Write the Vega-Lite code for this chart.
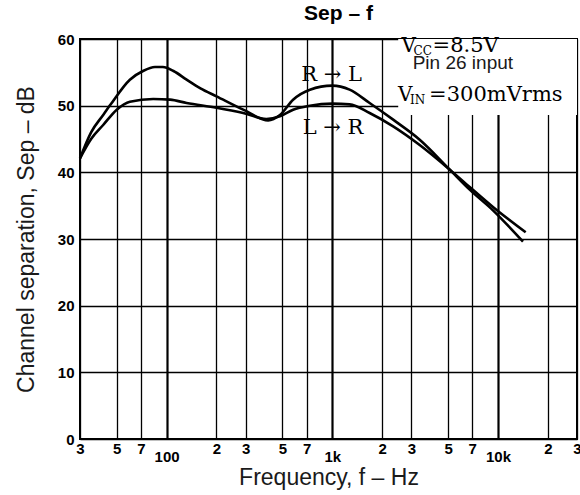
{
  "$schema": "https://vega.github.io/schema/vega-lite/v6.json",
  "width": 497,
  "height": 400,
  "autosize": "none",
  "padding": {"left": 80, "top": 39, "right": 3, "bottom": 56},
  "background": "white",
  "title": {"text": "Sep – f", "font": "Liberation Sans", "fontSize": 21, "fontWeight": "bold", "color": "black", "offset": 8, "dx": 10},
  "config": {
    "view": {"stroke": "black", "strokeWidth": 2},
    "axis": {"domain": false, "ticks": false, "gridColor": "black", "gridOpacity": 1, "labelColor": "black", "labelFont": "Liberation Sans", "labelFontWeight": "bold", "labelFontSize": 15, "titleFont": "Liberation Sans", "titleFontWeight": "normal", "titleFontSize": 23, "titleColor": "#1a1a1a"}
  },
  "layer": [
    {
      "data": {"values": [
        {"dir": "R→L", "f": 30, "sep": 42.1},
        {"dir": "R→L", "f": 35, "sep": 46.0},
        {"dir": "R→L", "f": 41.4, "sep": 48.6},
        {"dir": "R→L", "f": 46, "sep": 50.2},
        {"dir": "R→L", "f": 60, "sep": 53.9},
        {"dir": "R→L", "f": 72, "sep": 55.2},
        {"dir": "R→L", "f": 85, "sep": 55.8},
        {"dir": "R→L", "f": 95, "sep": 55.8},
        {"dir": "R→L", "f": 110, "sep": 55.2},
        {"dir": "R→L", "f": 132, "sep": 53.9},
        {"dir": "R→L", "f": 160, "sep": 52.6},
        {"dir": "R→L", "f": 200, "sep": 51.4},
        {"dir": "R→L", "f": 290, "sep": 49.4},
        {"dir": "R→L", "f": 410, "sep": 47.8},
        {"dir": "R→L", "f": 483, "sep": 48.6},
        {"dir": "R→L", "f": 580, "sep": 50.9},
        {"dir": "R→L", "f": 733, "sep": 52.4},
        {"dir": "R→L", "f": 1000, "sep": 53.0},
        {"dir": "R→L", "f": 1272, "sep": 52.4},
        {"dir": "R→L", "f": 1680, "sep": 50.4},
        {"dir": "R→L", "f": 2330, "sep": 47.9},
        {"dir": "R→L", "f": 3370, "sep": 44.9},
        {"dir": "R→L", "f": 5120, "sep": 40.4},
        {"dir": "R→L", "f": 6750, "sep": 37.4},
        {"dir": "R→L", "f": 9330, "sep": 34.3},
        {"dir": "R→L", "f": 14160, "sep": 29.6},
        {"dir": "L→R", "f": 30, "sep": 42.1},
        {"dir": "L→R", "f": 35, "sep": 45.0},
        {"dir": "L→R", "f": 41.4, "sep": 47.1},
        {"dir": "L→R", "f": 50, "sep": 49.4},
        {"dir": "L→R", "f": 60, "sep": 50.6},
        {"dir": "L→R", "f": 83, "sep": 51.0},
        {"dir": "L→R", "f": 105, "sep": 50.9},
        {"dir": "L→R", "f": 132, "sep": 50.4},
        {"dir": "L→R", "f": 200, "sep": 49.7},
        {"dir": "L→R", "f": 290, "sep": 48.9},
        {"dir": "L→R", "f": 400, "sep": 48.0},
        {"dir": "L→R", "f": 483, "sep": 48.4},
        {"dir": "L→R", "f": 580, "sep": 49.4},
        {"dir": "L→R", "f": 733, "sep": 50.0},
        {"dir": "L→R", "f": 1000, "sep": 50.3},
        {"dir": "L→R", "f": 1272, "sep": 50.2},
        {"dir": "L→R", "f": 1680, "sep": 48.9},
        {"dir": "L→R", "f": 2330, "sep": 46.9},
        {"dir": "L→R", "f": 3370, "sep": 44.1},
        {"dir": "L→R", "f": 5120, "sep": 40.4},
        {"dir": "L→R", "f": 6750, "sep": 37.8},
        {"dir": "L→R", "f": 9330, "sep": 34.8},
        {"dir": "L→R", "f": 14700, "sep": 31.0}
      ]},
      "mark": {"type": "line", "color": "black", "strokeWidth": 2.6, "interpolate": "monotone"},
      "encoding": {
        "x": {"field": "f", "type": "quantitative",
          "scale": {"type": "log", "domain": [30, 30000], "nice": false, "zero": false},
          "axis": {"orient": "bottom", "values": [30, 50, 70, 100, 200, 300, 500, 700, 1000, 2000, 3000, 5000, 7000, 10000, 20000, 30000],
            "labelExpr": "datum.value == 100 ? ['', '100'] : datum.value == 1000 ? ['', '1k'] : datum.value == 10000 ? ['', '10k'] : format(datum.value / pow(10, floor(log(datum.value) / LN10 + 1e-9)), 'd')",
            "labelLineHeight": 8, "labelPadding": 2, "labelOverlap": false, "labelFlush": false, "labelBound": false,
            "gridWidth": {"condition": {"test": "datum.value == 100 || datum.value == 1000 || datum.value == 10000", "value": 2.2}, "value": 1.3},
            "title": "Frequency, f – Hz", "titlePadding": 2}},
        "y": {"field": "sep", "type": "quantitative",
          "scale": {"domain": [0, 60], "nice": false, "zero": false},
          "axis": {"values": [0, 10, 20, 30, 40, 50, 60], "labelPadding": 6, "gridWidth": 1.4, "title": "Channel separation, Sep – dB", "titlePadding": 19}},
        "detail": {"field": "dir"}
      }
    },
    {
      "data": {"values": [{"f0": 2500, "f1": 30000, "s0": 48.6, "s1": 60}]},
      "mark": {"type": "rect", "fill": "white"},
      "encoding": {
        "x": {"field": "f0", "type": "quantitative"},
        "x2": {"field": "f1"},
        "y": {"field": "s0", "type": "quantitative"},
        "y2": {"field": "s1"}
      }
    },
    {
      "data": {"values": [{"f": 989, "sep": 54.65, "label": "R → L"}, {"f": 1010, "sep": 46.65, "label": "L → R"}]},
      "mark": {"type": "text", "font": "DejaVu Serif", "fontSize": 21, "align": "center", "baseline": "middle", "color": "black"},
      "encoding": {
        "x": {"field": "f", "type": "quantitative"},
        "y": {"field": "sep", "type": "quantitative"},
        "text": {"field": "label"}
      }
    },
    {
      "data": {"values": [{"f": 3057, "sep": 55.55, "label": "Pin 26 input"}]},
      "mark": {"type": "text", "font": "Liberation Sans", "fontSize": 19, "align": "left", "baseline": "alphabetic", "color": "#1a1a1a"},
      "encoding": {
        "x": {"field": "f", "type": "quantitative"},
        "y": {"field": "sep", "type": "quantitative"},
        "text": {"field": "label"}
      }
    },
    {
      "data": {"values": [{"f": 2620, "sep": 58.0, "label": "V"}, {"f": 2496, "sep": 50.75, "label": "V"}]},
      "mark": {"type": "text", "font": "DejaVu Serif", "fontSize": 20, "align": "left", "baseline": "alphabetic", "color": "black"},
      "encoding": {
        "x": {"field": "f", "type": "quantitative"},
        "y": {"field": "sep", "type": "quantitative"},
        "text": {"field": "label"}
      }
    },
    {
      "data": {"values": [{"f": 2620, "sep": 58.0, "label": "CC"}, {"f": 2496, "sep": 50.75, "label": "IN"}]},
      "mark": {"type": "text", "font": "DejaVu Serif", "fontSize": 12, "align": "left", "baseline": "alphabetic", "dx": 12, "dy": 3, "color": "black"},
      "encoding": {
        "x": {"field": "f", "type": "quantitative"},
        "y": {"field": "sep", "type": "quantitative"},
        "text": {"field": "label"}
      }
    },
    {
      "data": {"values": [{"f": 2620, "sep": 58.0, "label": "=8.5V"}, {"f": 2496, "sep": 50.75, "label": "=300mVrms"}]},
      "mark": {"type": "text", "font": "DejaVu Serif", "fontSize": 21, "align": "left", "baseline": "alphabetic", "dx": 31, "color": "black"},
      "encoding": {
        "x": {"field": "f", "type": "quantitative"},
        "y": {"field": "sep", "type": "quantitative"},
        "text": {"field": "label"}
      }
    }
  ]
}
